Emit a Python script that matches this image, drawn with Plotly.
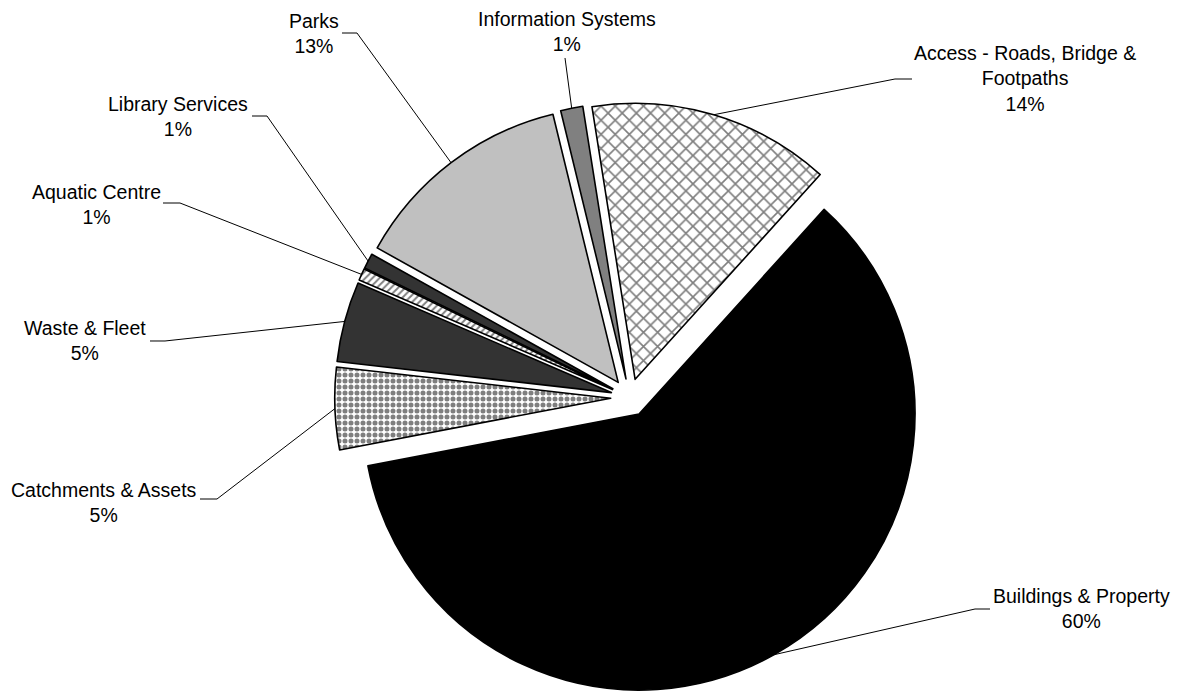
import math
import plotly.graph_objects as go

# ---------------- data ----------------
categories = [
    "Access - Roads, Bridge & Footpaths",
    "Buildings & Property",
    "Catchments & Assets",
    "Waste & Fleet",
    "Aquatic Centre",
    "Library Services",
    "Parks",
    "Information Systems",
]
shares = [14.2, 60.3, 4.8, 4.7, 0.7, 0.9, 13.1, 1.3]
label_lines = [
    "Access - Roads, Bridge &<br>Footpaths",
    "Buildings & Property",
    "Catchments & Assets",
    "Waste & Fleet",
    "Aquatic Centre",
    "Library Services",
    "Parks",
    "Information Systems",
]

# ---------------- styles ----------------
fill_colors = ["#ffffff", "#000000", "#ffffff", "#333333", "#ffffff", "#333333", "#c0c0c0", "#808080"]
pattern_shapes = ["x", "", ".", "", "/", "", "", ""]
pattern_sizes = [10, 8, 6, 8, 5, 8, 8, 8]
pattern_solidity = [0.3, 0.3, 0.55, 0.3, 0.4, 0.3, 0.3, 0.3]

W, H = 1184, 693
CX, CY, R = 629.7, 397.5, 276.0
PULL = 19.0 / R
ROT = -9

# label centres (px) and leader elbow points (px)
label_pos = [(1025, 79), (1081, 608), (104, 502), (85, 340), (96, 204), (178, 117), (314, 34), (567, 31)]
leader_mid = [(895, 79), (975, 609), (217, 499), (165, 341), (180, 203), (267, 116), (357, 33), (565, 58)]
leader_end = [(912, 79), (990, 609), (200, 499), (150, 341), (163, 203), (252, 116), (342, 33), (565, 58)]

half = R * (1 + PULL)
dom_x = [(CX - half) / W, (CX + half) / W]
cy_p = 1 - CY / H
dom_y = [cy_p - half / H, cy_p + half / H]

fig = go.Figure(
    go.Pie(
        labels=categories,
        values=shares,
        sort=False,
        direction="clockwise",
        rotation=ROT,
        pull=[PULL] * len(shares),
        textinfo="none",
        hoverinfo="label+percent",
        domain=dict(x=dom_x, y=dom_y),
        marker=dict(
            colors=fill_colors,
            line=dict(color="#000000", width=1.6),
            pattern=dict(
                shape=pattern_shapes,
                fgcolor="#000000",
                size=pattern_sizes,
                solidity=pattern_solidity,
                fillmode="overlay",
            ),
        ),
        showlegend=False,
    )
)

total = sum(shares)
cum = 0.0
shapes = []
annotations = []
for i, v in enumerate(shares):
    mid = math.radians(ROT + 360.0 * (cum + v / 2.0) / total)
    cum += v
    ax_px = CX + R * (1 + PULL) * math.sin(mid)
    ay_px = CY - R * (1 + PULL) * math.cos(mid)
    pts = [(ax_px, ay_px), leader_mid[i], leader_end[i]]
    path = "M " + " L ".join(f"{x / W:.5f},{1 - y / H:.5f}" for x, y in pts)
    shapes.append(dict(type="path", xref="paper", yref="paper", path=path,
                       line=dict(color="#000000", width=1)))
    pct = round(100.0 * v / total)
    lx, ly = label_pos[i]
    annotations.append(dict(
        x=lx / W, y=1 - ly / H, xref="paper", yref="paper",
        text=f"{label_lines[i]}<br>{pct}%", showarrow=False,
        xanchor="center", yanchor="middle", align="center",
        font=dict(family="Liberation Sans, Arial, sans-serif", size=19.5, color="#000000"),
    ))

fig.update_layout(
    width=W, height=H,
    margin=dict(l=0, r=0, t=0, b=0),
    paper_bgcolor="#ffffff",
    plot_bgcolor="#ffffff",
    shapes=shapes,
    annotations=annotations,
)

fig.write_html("out.html")
